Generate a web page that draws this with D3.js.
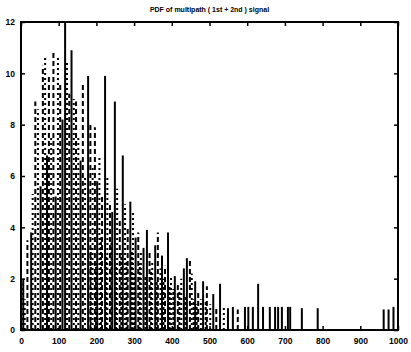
<!DOCTYPE html>
<html><head><meta charset="utf-8">
<script src="https://cdn.jsdelivr.net/npm/d3@7"></script>
<style>body{margin:0;background:#fff}text{font-family:"Liberation Sans",Arial,sans-serif;font-weight:bold}</style>
</head><body><svg id="c" width="411" height="352"></svg>
<script>
const title = "PDF of multipath ( 1st + 2nd ) signal";
const xTicks = [0,100,200,300,400,500,600,700,800,900,1000];
const yTicks = [0,2,4,6,8,10,12];

const solidX = [6,27,52,69,92,110,117,134,158,178,202,223,242,249,270,290,304,325,334,356,374,390,408,432,440,462,483,510,528,549,562,594,603,615,629,642,660,674,682,692,708,714,745,787,962,975,988];
const solidH = [2.0,3.8,5.6,6.8,5.2,8.2,12.5,10.9,6.6,9.9,5.8,9.9,4.6,8.9,6.8,5.0,3.6,3.2,3.9,3.3,2.9,3.8,2.1,2.4,2.8,1.9,1.9,1.4,1.8,0.85,0.9,0.9,0.9,0.9,1.8,0.9,0.9,0.9,0.9,0.9,0.9,0.9,0.85,0.85,0.8,0.8,0.9];

const dashX = [17,38,58,74,86,104,128,146,164,184,196,215,236,262,283,311,341,363,382,416,448,470,493,518,575];
const dashH = [3.5,8.9,10.3,9.9,10.9,9.6,9.2,8.9,9.6,8.0,7.9,5.3,5.0,4.3,4.0,3.8,3.0,3.8,2.5,1.8,2.8,1.5,1.7,0.9,0.8];

const dotX = [3,10,31,45,64,80,98,122,140,152,170,190,208,229,255,276,297,318,348,370,398,425,453,477,502,538];
const dotH = [1.8,1.2,5.3,8.6,10.6,7.5,10.7,10.4,9.0,7.6,6.0,6.4,6.7,6.0,5.5,4.9,4.6,3.0,2.7,2.4,2.1,2.0,2.2,1.2,1.0,0.9];

const lowX = [185,199,212,226,240,252,266,280,294,301,315,330,345,360,378,394,404,420,437,458,466,490];
const lowH = [3.2,2.6,3.6,2.9,3.4,2.5,3.0,2.7,3.1,2.2,2.6,2.1,2.3,1.9,2.0,1.7,1.6,1.5,1.3,1.2,1.0,1.1];

const W = 411, H = 352, m = {l:21, r:13, t:22, b:22};
const svg = d3.select("#c");
const x = d3.scaleLinear().domain([0,1000]).range([m.l, W-m.r]);
const y = d3.scaleLinear().domain([0,12]).range([H-m.b, m.t]);

svg.append("defs").append("clipPath").attr("id","clip")
  .append("rect").attr("x",m.l).attr("y",m.t).attr("width",W-m.l-m.r).attr("height",H-m.t-m.b);

const g = svg.append("g").attr("clip-path","url(#clip)");
function stems(xs, hs, dash, cls){
  g.selectAll("line."+cls).data(xs.map((v,i)=>({v,h:hs[i]}))).join("line")
    .attr("class",cls)
    .attr("x1",d=>x(d.v)).attr("x2",d=>x(d.v))
    .attr("y1",y(0)).attr("y2",d=>y(d.h))
    .attr("stroke","#000").attr("stroke-width",2)
    .attr("stroke-dasharray",dash);
}
stems(lowX, lowH, "3,2", "low");
stems(dotX, dotH, "2,3", "dot");
stems(dashX, dashH, "5,3", "dash");
stems(solidX, solidH, null, "solid");

// frame
svg.append("rect").attr("x",m.l).attr("y",m.t).attr("width",W-m.l-m.r).attr("height",H-m.t-m.b)
  .attr("fill","none").attr("stroke","#000").attr("stroke-width",2);

// axes with inward ticks
const xb = svg.append("g").attr("transform",`translate(0,${H-m.b})`)
  .call(d3.axisBottom(x).tickValues(xTicks).tickSize(-4).tickPadding(8).tickFormat(d3.format("d")));
const xt = svg.append("g").attr("transform",`translate(0,${m.t})`)
  .call(d3.axisTop(x).tickValues(xTicks).tickSize(-4).tickFormat(""));
const yl = svg.append("g").attr("transform",`translate(${m.l},0)`)
  .call(d3.axisLeft(y).tickValues(yTicks).tickSize(-4).tickPadding(6));
const yr = svg.append("g").attr("transform",`translate(${W-m.r},0)`)
  .call(d3.axisRight(y).tickValues(yTicks).tickSize(-4).tickFormat(""));
[xb,xt,yl,yr].forEach(a=>{
  a.select(".domain").remove();
  a.selectAll(".tick line").attr("stroke","#000").attr("stroke-width",1.5);
  a.selectAll("text").attr("font-size",8.5).attr("fill","#000")
   .style("font-family","'Liberation Sans',Arial,sans-serif").style("font-weight","bold");
});

svg.append("text").attr("x",(m.l+W-m.r)/2).attr("y",12).attr("text-anchor","middle")
  .attr("font-size",7).attr("fill","#000").text(title);
</script></body></html>
